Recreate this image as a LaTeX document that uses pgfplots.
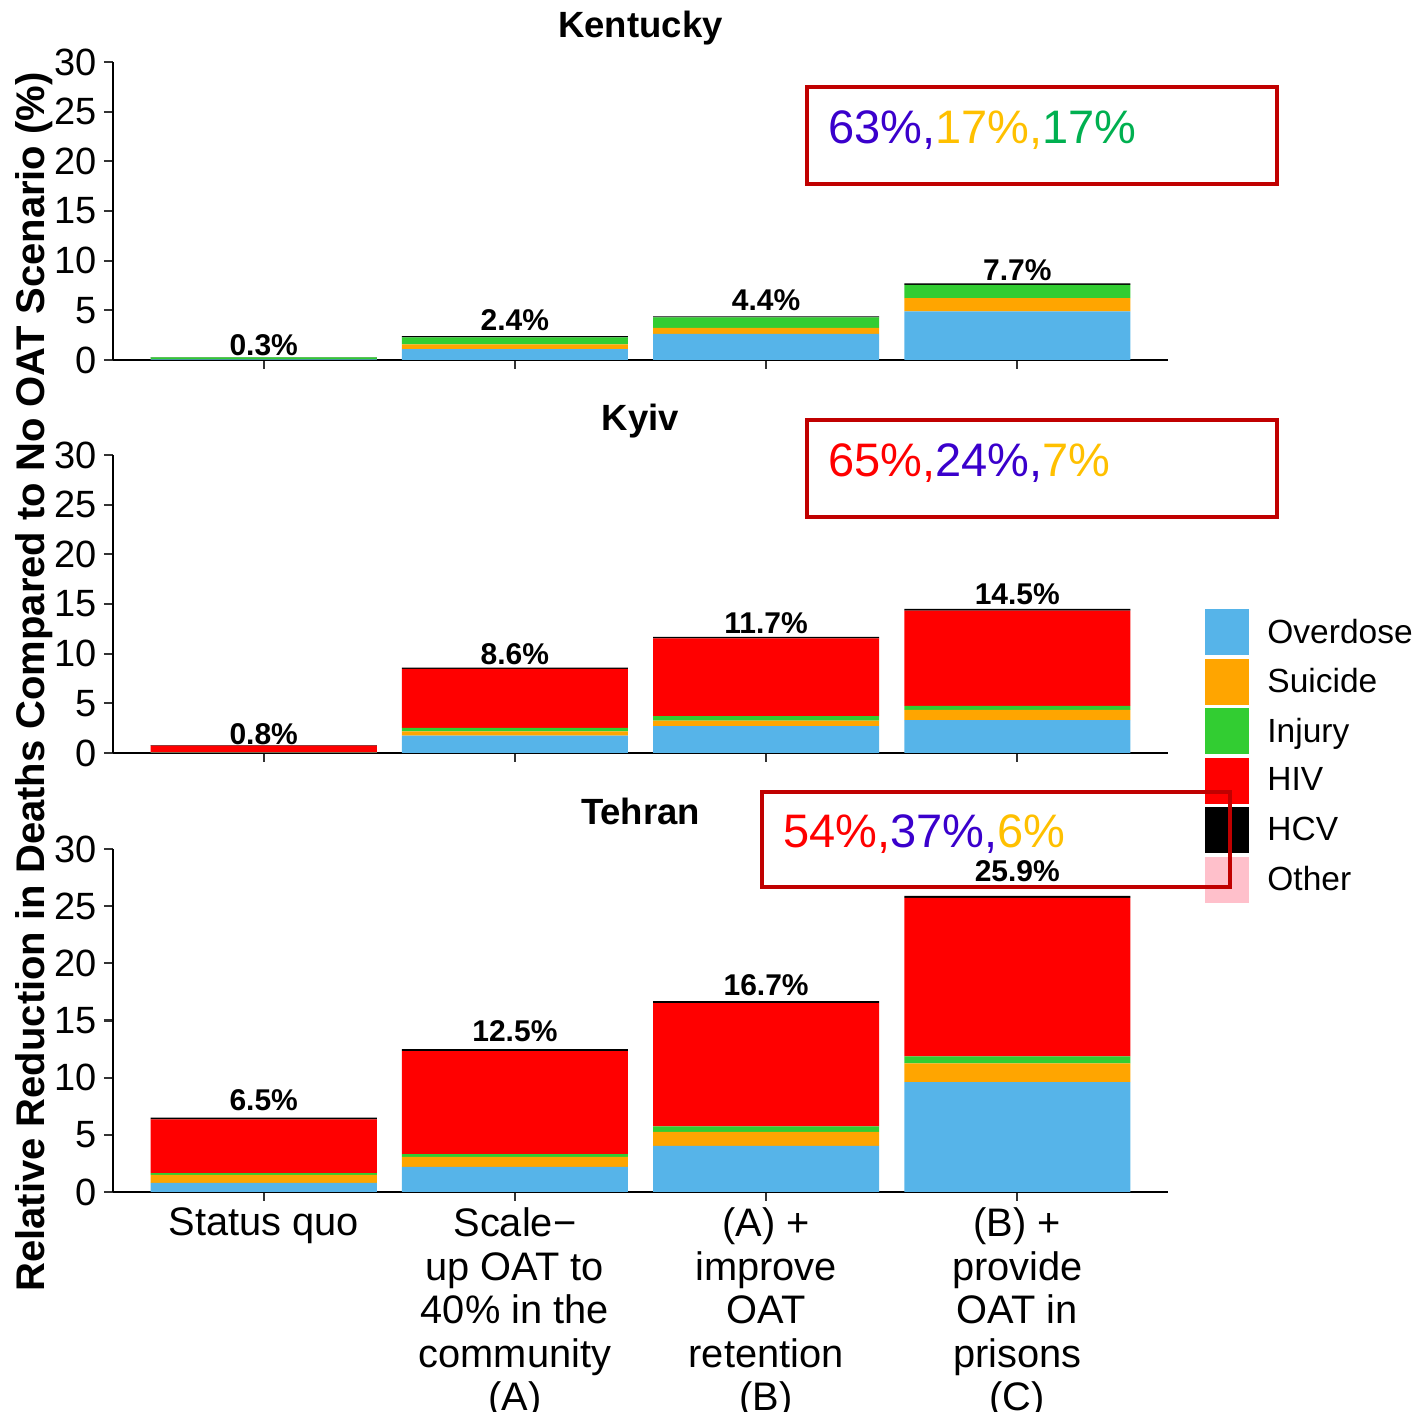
\documentclass[border=0pt]{standalone}
\usepackage{fontspec}
\setmainfont{Liberation Sans}
\usepackage{pgfplots}
\usepackage{pgfplotstable}
\pgfplotsset{compat=1.18}

\definecolor{cOD}{HTML}{56B4E9}
\definecolor{cSU}{HTML}{FFA500}
\definecolor{cIN}{HTML}{32CD32}
\definecolor{cHIV}{HTML}{FF0000}
\definecolor{cHCV}{HTML}{000000}
\definecolor{cOT}{HTML}{FFC0CB}
\definecolor{boxred}{HTML}{C00000}
\definecolor{tpurple}{HTML}{3A00CC}
\definecolor{tgold}{HTML}{FFC000}
\definecolor{tgreen}{HTML}{00B050}

\pgfplotstableread{
x od su in hiv hcv ot
0 0.05 0.02 0.20 0.00 0.03 0
1 1.10 0.48 0.70 0.00 0.12 0
2 2.62 0.62 1.06 0.00 0.10 0
3 4.90 1.32 1.34 0.00 0.14 0
}\kentucky
\pgfplotstableread{
x od su in hiv hcv ot
0 0.03 0.02 0.02 0.66 0.07 0
1 1.75 0.42 0.35 5.95 0.13 0
2 2.70 0.55 0.47 7.83 0.15 0
3 3.32 1.02 0.41 9.58 0.17 0
}\kyiv
\pgfplotstableread{
x od su in hiv hcv ot
0 0.79 0.70 0.15 4.72 0.14 0
1 2.20 0.88 0.23 9.01 0.18 0
2 4.03 1.23 0.47 10.79 0.18 0
3 9.60 1.65 0.62 13.85 0.18 0
}\tehran

\pgfplotstableread{
x ly lab
0 0.35 {0.3\%}
1 2.88 {2.4\%}
2 4.90 {4.4\%}
3 7.93 {7.7\%}
}\kentuckylab
\pgfplotstableread{
x ly lab
0 0.80 {0.8\%}
1 8.86 {8.6\%}
2 11.98 {11.7\%}
3 14.90 {14.5\%}
}\kyivlab
\pgfplotstableread{
x ly lab
0 7.09 {6.5\%}
1 13.12 {12.5\%}
2 17.15 {16.7\%}
3 27.12 {25.9\%}
}\tehranlab

\pgfplotsset{
  base/.style={
    scale only axis, width=527.5pt,
    xmin=-0.6, xmax=3.6, ymin=0, ymax=30,
    clip=false,
  },
  panel/.style={
    base,
    ybar stacked, bar width=0.9,
    axis lines=left,
    axis line style={-, line width=1.1pt, black},
    tick align=outside, major tick length=4.5pt,
    tick style={line width=1.1pt, color=black!80},
    xtick={0,1,2,3}, ytick={0,5,10,15,20,25,30},
    /pgf/number format/assume math mode=true,
    yticklabel style={font=\fontsize{19}{21.75}\selectfont},
    xticklabel style={font=\fontsize{19.9}{21.75}\selectfont},
    title style={at={(0.5,1)}, anchor=base, yshift=6pt, font=\bfseries\fontsize{18.25}{18.25}\selectfont},
  },
  labels/.style={
    base, hide axis,
  },
  seg/.style={fill=#1, draw=none, legend image code/.code={\fill[#1] (0pt,-11.5pt) rectangle (22pt,11.5pt);}},
  lab/.style={draw=none, mark=none, nodes near coords, point meta=explicit symbolic,
    every node near coord/.append style={anchor=south, inner sep=0pt, font=\bfseries\fontsize{15}{15}\selectfont, text=black}},
}

\newcommand{\bars}[1]{%
  \addplot[seg=cOD] table[x=x, y=od] {#1};
  \addplot[seg=cSU] table[x=x, y=su] {#1};
  \addplot[seg=cIN] table[x=x, y=in] {#1};
  \addplot[seg=cHIV] table[x=x, y=hiv] {#1};
  \addplot[seg=cHCV] table[x=x, y=hcv] {#1};
  \addplot[seg=cOT] table[x=x, y=ot] {#1};
}

\begin{document}
\begin{tikzpicture}
\path[use as bounding box] (0,0) rectangle (710pt,706pt);

% Kentucky
\begin{axis}[panel, at={(56.5pt,526pt)}, anchor=south west, height=149pt,
  title={Kentucky}, xticklabels={}]
  \bars{\kentucky}
\end{axis}
\begin{axis}[labels, at={(56.5pt,526pt)}, anchor=south west, height=149pt]
  \addplot[lab] table[x=x, y=ly, meta=lab] {\kentuckylab};
\end{axis}

% Kyiv
\begin{axis}[panel, at={(56.5pt,329.5pt)}, anchor=south west, height=149pt,
  title={Kyiv}, xticklabels={},
  legend style={draw=none, fill=none, at={(axis description cs:1.0351,0.4832)}, anchor=north west,
    font=\fontsize{16.75}{20}\selectfont, row sep=1.75pt, inner sep=0pt,
    /tikz/every odd column/.append style={column sep=7pt}},
  legend cell align=left]
  \bars{\kyiv}
  \legend{Overdose,Suicide,Injury,HIV,HCV,Other}
\end{axis}
\begin{axis}[labels, at={(56.5pt,329.5pt)}, anchor=south west, height=149pt]
  \addplot[lab] table[x=x, y=ly, meta=lab] {\kyivlab};
\end{axis}

% Tehran
\begin{axis}[panel, at={(56.5pt,110pt)}, anchor=south west, height=171.5pt,
  title={Tehran},
  xticklabels={Status quo, {Scale−\\up OAT to\\40\% in the\\community\\(A)}, {(A) +\\improve\\OAT\\retention\\(B)}, {(B) +\\provide\\OAT in\\prisons\\(C)}},
  xticklabel style={align=center}]
  \bars{\tehran}
\end{axis}
\begin{axis}[labels, at={(56.5pt,110pt)}, anchor=south west, height=171.5pt]
  \addplot[lab] table[x=x, y=ly, meta=lab] {\tehranlab};
\end{axis}

% y label
\node[rotate=90, anchor=base, font=\bfseries\fontsize{20}{20}\selectfont] at (22.5pt,365pt)
  {Relative Reduction in Deaths Compared to No OAT Scenario (\%)};

% annotation boxes (pixel coordinates)
\begin{scope}[x=0.5pt, y=-0.5pt, yshift=706pt]
  \draw[boxred, line width=2pt] (807,87) rectangle (1277,184);
  \node[anchor=base west, inner sep=0pt, font=\fontsize{23.5}{23.5}\selectfont] at (828,144)
    {\textcolor{tpurple}{63\%,}\textcolor{tgold}{17\%,}\textcolor{tgreen}{17\%}};
  \draw[boxred, line width=2pt] (807,420) rectangle (1277,517);
  \node[anchor=base west, inner sep=0pt, font=\fontsize{23.5}{23.5}\selectfont] at (828,477)
    {\textcolor{cHIV}{65\%,}\textcolor{tpurple}{24\%,}\textcolor{tgold}{7\%}};
  \draw[boxred, line width=2pt] (762,792) rectangle (1230,887);
  \node[anchor=base west, inner sep=0pt, font=\fontsize{23.5}{23.5}\selectfont] at (783,848)
    {\textcolor{cHIV}{54\%,}\textcolor{tpurple}{37\%,}\textcolor{tgold}{6\%}};
\end{scope}
\end{tikzpicture}
\end{document}
